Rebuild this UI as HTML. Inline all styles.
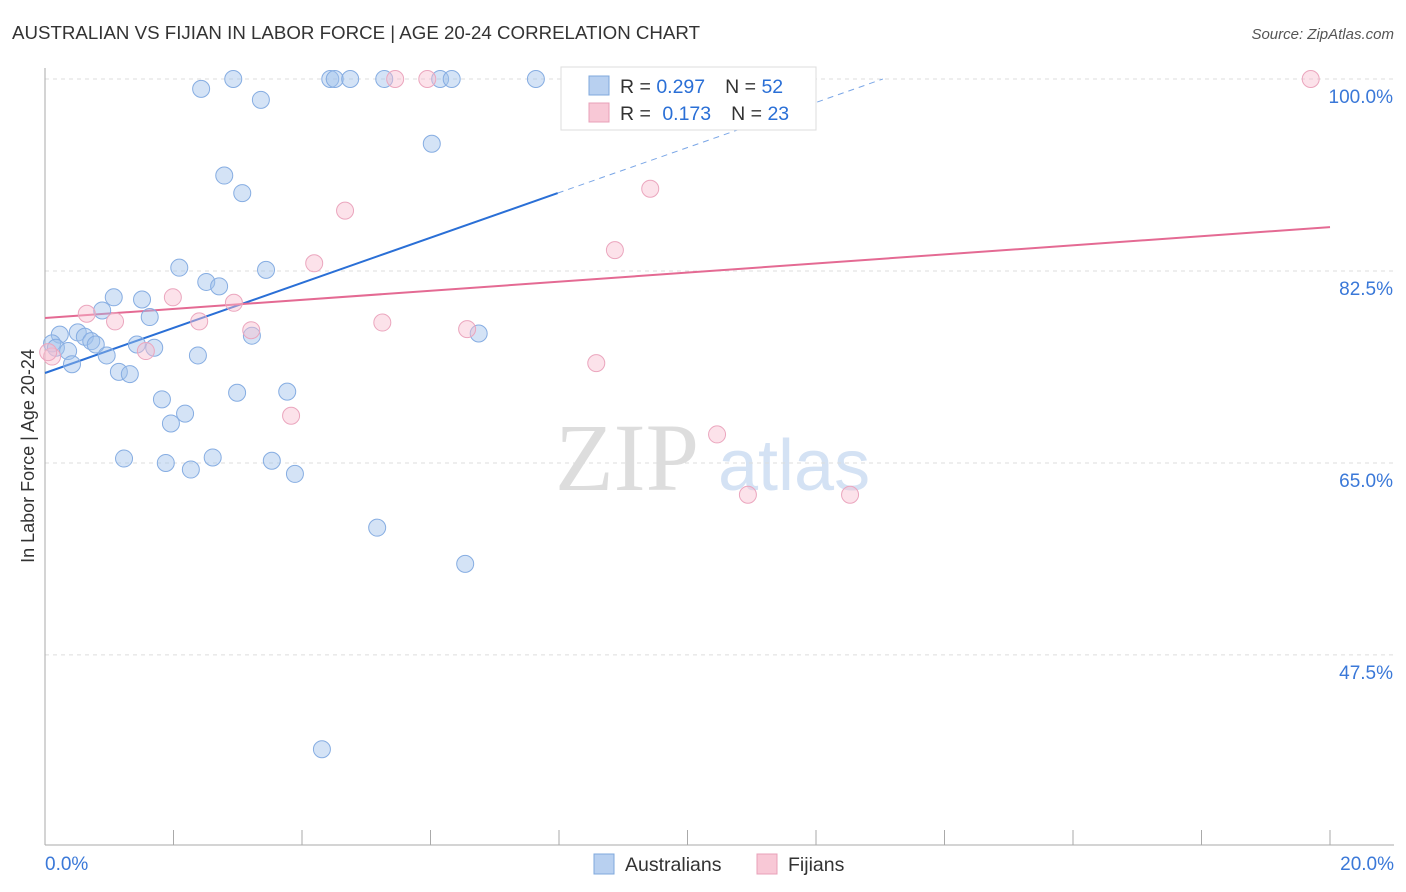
<!DOCTYPE html>
<html><head><meta charset="utf-8"><style>
body{margin:0;background:#fff;font-family:"Liberation Sans",sans-serif;}
svg{display:block}
</style></head><body>
<svg id="chart" width="1406" height="892">
<text x="12" y="39" font-size="18.5" fill="#333" textLength="688" lengthAdjust="spacingAndGlyphs">AUSTRALIAN VS FIJIAN IN LABOR FORCE | AGE 20-24 CORRELATION CHART</text>
<text x="1394" y="39" font-size="15" fill="#555" text-anchor="end" font-style="italic">Source: ZipAtlas.com</text>
<text x="555" y="490" font-size="96" fill="#ddd" font-family="Liberation Serif">ZIP</text>
<text x="718" y="490" font-size="72" fill="#d4e2f4">atlas</text>
<text transform="translate(34,456) rotate(-90)" font-size="18" fill="#333" text-anchor="middle">In Labor Force | Age 20-24</text>
<g id="grid"></g><g id="axes"></g><g id="lines"></g><g id="pts"></g>
<g>
<rect x="561" y="67" width="255" height="63" fill="#fff" stroke="#ddd"/>
<rect x="589" y="76" width="20" height="19" fill="#b8d0f0" stroke="#7fa8dd"/>
<rect x="589" y="103" width="20" height="19" fill="#f8c8d6" stroke="#e8a0b8"/>
<text x="620" y="93" font-size="19.5" fill="#333">R = <tspan fill="#2a6fd6">0.297</tspan><tspan dx="20">N = </tspan><tspan fill="#2a6fd6">52</tspan></text>
<text x="620" y="120" font-size="19.5" fill="#333">R = <tspan dx="6" fill="#2a6fd6">0.173</tspan><tspan dx="20">N = </tspan><tspan fill="#2a6fd6">23</tspan></text>
</g>
<g>
<rect x="594" y="854" width="20" height="20" fill="#b8d0f0" stroke="#7fa8dd"/>
<text x="625" y="871" font-size="19.5" fill="#333">Australians</text>
<rect x="757" y="854" width="20" height="20" fill="#f8c8d6" stroke="#e8a0b8"/>
<text x="788" y="871" font-size="19.5" fill="#333">Fijians</text>
</g>
</svg>
<script>
const yTicks=[100,82.5,65,47.5];
const yTickLabels=["100.0%","82.5%","65.0%","47.5%"];
const xTickLabels=["0.0%","20.0%"];
const ausX=[2.93,2.43,3.36,4.44,4.51,4.75,5.28,6.15,6.33,7.64,6.02,2.79,3.07,2.09,3.44,2.51,2.71,1.07,1.51,0.89,1.63,0.23,0.51,0.62,0.72,0.79,0.11,0.17,0.36,0.96,1.43,1.70,2.38,3.22,6.75,0.42,1.15,1.32,1.82,2.99,3.77,2.18,1.96,1.23,1.88,2.61,2.27,3.53,3.89,5.17,6.54,4.31];
const ausY=[100,99.1,98.1,100,100,100,100,100,100,100,94.1,91.2,89.6,82.8,82.6,81.5,81.1,80.1,79.9,78.9,78.3,76.7,76.9,76.5,76.1,75.8,75.9,75.5,75.2,74.8,75.8,75.5,74.8,76.6,76.8,74.0,73.3,73.1,70.8,71.4,71.5,69.5,68.6,65.4,65.0,65.5,64.4,65.2,64.0,59.1,55.8,38.9];
const fijX=[5.45,5.95,19.70,9.42,4.67,8.87,4.19,1.99,2.94,0.65,1.09,2.40,5.25,3.21,6.57,1.57,0.11,8.58,3.83,10.46,10.94,12.53,0.05];
const fijY=[100,100,100,90.0,88.0,84.4,83.2,80.1,79.6,78.6,77.9,77.9,77.8,77.1,77.2,75.2,74.7,74.1,69.3,67.6,62.1,62.1,75.1];
const ausTrend=[73.2,89.6];
const ausTrendEndX=7.98;
const fijTrend=[78.21,86.5];
const NS="http://www.w3.org/2000/svg";
const sx=v=>45+v/20*1285;
const sy=v=>79+(100-v)*10.97;
function mk(tag,attrs,parent){const e=document.createElementNS(NS,tag);for(const k in attrs)e.setAttribute(k,attrs[k]);document.getElementById(parent).appendChild(e);return e;}
yTicks.forEach((t,i)=>{
 const l=mk('line',{x1:45,x2:1394,y1:sy(t),y2:sy(t),stroke:'#ddd','stroke-dasharray':'4,4'},'grid');
 
 
 const tx=mk('text',{x:1393,y:sy(t)+24,'font-size':19,fill:'#3a78d8','text-anchor':'end'},'grid');
 tx.textContent=yTickLabels[i];
 
 
});
mk('line',{x1:45,x2:45,y1:68,y2:845,stroke:'#aaa'},'axes');
mk('line',{x1:45,x2:1394,y1:845,y2:845,stroke:'#aaa'},'axes');
for(let i=0;i<=10;i++){const x=sx(i*2);mk('line',{x1:x,x2:x,y1:830,y2:845,stroke:'#aaa'},'axes');}
const xl0=mk('text',{x:45,y:870,'font-size':19,fill:'#3a78d8'},'axes');xl0.textContent=xTickLabels[0];


const xl1=mk('text',{x:1394,y:870,'font-size':19,fill:'#3a78d8','text-anchor':'end'},'axes');xl1.textContent=xTickLabels[1];


ausX.forEach((x,i)=>{const c=mk('circle',{cx:sx(x),cy:sy(ausY[i]),r:8.5,fill:'rgba(160,192,235,0.45)',stroke:'#86ade2','stroke-width':1},'pts');
 
 });
fijX.forEach((x,i)=>{const c=mk('circle',{cx:sx(x),cy:sy(fijY[i]),r:8.5,fill:'rgba(248,190,208,0.45)',stroke:'#eba6be','stroke-width':1},'pts');
 
 });
const slope=(ausTrend[1]-ausTrend[0])/ausTrendEndX;
const xEnd=(100-ausTrend[0])/slope;
const bl=mk('line',{x1:sx(0),y1:sy(ausTrend[0]),x2:sx(ausTrendEndX),y2:sy(ausTrend[1]),stroke:'#2a6fd6','stroke-width':2},'lines');


const bd=mk('line',{x1:sx(ausTrendEndX),y1:sy(ausTrend[1]),x2:sx(xEnd),y2:sy(100),stroke:'#7aa6e6','stroke-width':1,'stroke-dasharray':'6,5'},'lines');


const pl=mk('line',{x1:sx(0),y1:sy(fijTrend[0]),x2:sx(20),y2:sy(fijTrend[1]),stroke:'#e46a93','stroke-width':2},'lines');


</script>
</body></html>
